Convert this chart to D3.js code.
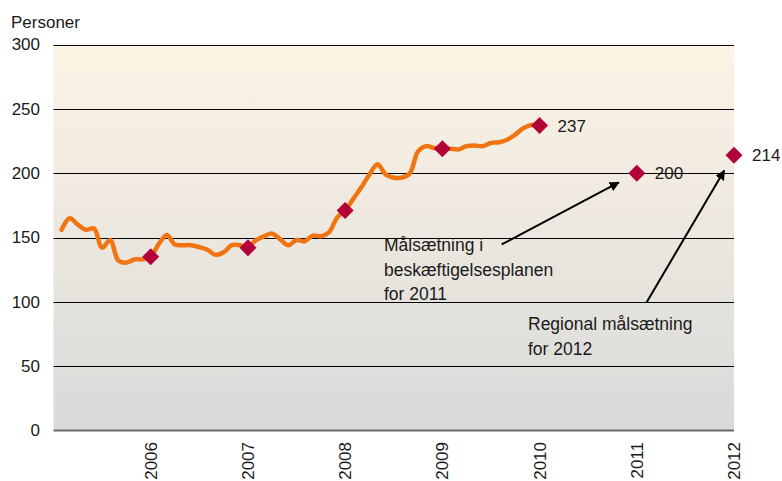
<!DOCTYPE html>
<html>
<head>
<meta charset="utf-8">
<script src="https://cdn.jsdelivr.net/npm/d3@7"></script>
<style>
  body { margin: 0; background: #fff; }
  text { font-family: "Liberation Sans", Arial, sans-serif; fill: #1a1a1a; }
</style>
</head>
<body>
<svg class="chart" width="782" height="481"></svg>
<script>
var svg = d3.select(".chart"),
    width = +svg.attr("width"),
    height = +svg.attr("height");

// monthly values, Feb 2005 .. Jan 2010
var startYear = 2005, startMonth = 1;
var monthly = [156, 165, 160, 156, 157, 142, 148, 132, 130.5, 133, 133,
  135, 145, 152, 144.5, 144, 144, 142.5, 140.5, 136.5, 138.5, 144, 144,
  142.5, 148, 151, 153, 148.5, 144, 148, 147, 151.5, 151, 154, 165.5,
  171, 180, 189, 199, 207, 199, 196.5, 196.5, 200, 217, 221, 219.5,
  219, 219, 218.5, 221, 221.5, 221, 223.5, 224, 226, 230, 235, 237.5,
  237];

// january markers
var markerYears = [2006, 2007, 2008, 2009, 2010, 2011, 2012];
var markerValues = [135, 142, 171, 219, 237, 200, 214];
var markerLabels = [null, null, null, null, "237", "200", "214"];

var yTicks = [0, 50, 100, 150, 200, 250, 300];
var xTicks = [2006, 2007, 2008, 2009, 2010, 2011, 2012];

var x = d3.scaleLinear().domain([2005, 2012]).range([53.5, 734]);
var y = d3.scaleLinear().domain([0, 300]).range([430.5, 44.5]);

var lineData = monthly.map(function(v, i) {
  return { t: startYear + (startMonth + i) / 12, v: v };
});

// background gradient
var defs = svg.append("defs");
var grad = defs.append("linearGradient")
    .attr("id", "bg")
    .attr("x1", 0).attr("y1", 0).attr("x2", 0).attr("y2", 1);
grad.append("stop").attr("offset", "0%").attr("stop-color", "#fcf3e4");
grad.append("stop").attr("offset", "50%").attr("stop-color", "#ece7df");
grad.append("stop").attr("offset", "100%").attr("stop-color", "#d7d9d9");

svg.append("rect")
    .attr("x", x(2005))
    .attr("y", y(300))
    .attr("width", x(2012) - x(2005))
    .attr("height", y(0) - y(300))
    .style("fill", "url(#bg)");

// gridlines
svg.append("g")
  .selectAll("line")
  .data(yTicks.filter(function(d) { return d > 0; }))
  .enter().append("line")
    .attr("x1", x(2005)).attr("x2", x(2012))
    .attr("y1", function(d) { return Math.round(y(d)) + 0.5; })
    .attr("y2", function(d) { return Math.round(y(d)) + 0.5; })
    .style("stroke", "#000")
    .style("stroke-width", 1);

svg.append("line")
    .attr("x1", x(2005)).attr("x2", x(2012))
    .attr("y1", y(0)).attr("y2", y(0))
    .style("stroke", "#6b6b6b")
    .style("stroke-width", 2);

// y labels
svg.append("g")
  .selectAll("text")
  .data(yTicks)
  .enter().append("text")
    .attr("x", 40)
    .attr("y", function(d) { return y(d); })
    .attr("dy", "0.35em")
    .attr("text-anchor", "end")
    .style("font-size", "17px")
    .text(function(d) { return d; });

svg.append("text")
    .attr("x", 11)
    .attr("y", 28)
    .style("font-size", "17px")
    .text("Personer");

// x labels (rotated)
svg.append("g")
  .selectAll("text")
  .data(xTicks)
  .enter().append("text")
    .attr("transform", function(d) { return "translate(" + x(d) + ",442) rotate(-90)"; })
    .attr("text-anchor", "end")
    .attr("dy", "0.35em")
    .style("font-size", "17px")
    .text(function(d) { return d; });

// line
var line = d3.line()
    .x(function(d) { return x(d.t); })
    .y(function(d) { return y(d.v); })
    .curve(d3.curveCatmullRom.alpha(0.5));

svg.append("path")
    .datum(lineData)
    .attr("d", line)
    .style("fill", "none")
    .style("stroke", "#f07412")
    .style("stroke-width", 4.5)
    .style("stroke-linejoin", "round")
    .style("stroke-linecap", "round");

// markers
var markers = markerYears.map(function(yr, i) {
  return { t: yr, v: markerValues[i], label: markerLabels[i] };
});

svg.append("g")
  .selectAll("path")
  .data(markers)
  .enter().append("path")
    .attr("d", "M0,-8.5L8.5,0L0,8.5L-8.5,0Z")
    .attr("transform", function(d) { return "translate(" + x(d.t) + "," + y(d.v) + ")"; })
    .style("fill", "#b3003a");

svg.append("g")
  .selectAll("text")
  .data(markers.filter(function(d) { return d.label; }))
  .enter().append("text")
    .attr("x", function(d) { return x(d.t) + 18; })
    .attr("y", function(d) { return y(d.v); })
    .attr("dy", "0.35em")
    .style("font-size", "17px")
    .text(function(d) { return d.label; });

// annotations
defs.append("marker")
    .attr("id", "arrow")
    .attr("viewBox", "0 0 10 10")
    .attr("refX", 9).attr("refY", 5)
    .attr("markerWidth", 5).attr("markerHeight", 5)
    .attr("orient", "auto")
  .append("path")
    .attr("d", "M0,0L10,5L0,10Z")
    .style("fill", "#000");

var arrows = [
  { x1: 2009.61, y1: 144.6, x2: 2010.815, y2: 192.8 },
  { x1: 2011.1, y1: 99.5, x2: 2011.9, y2: 202 }
];

svg.append("g")
  .selectAll("line")
  .data(arrows)
  .enter().append("line")
    .attr("x1", function(d) { return x(d.x1); })
    .attr("y1", function(d) { return y(d.y1); })
    .attr("x2", function(d) { return x(d.x2); })
    .attr("y2", function(d) { return y(d.y2); })
    .style("stroke", "#000")
    .style("stroke-width", 2)
    .attr("marker-end", "url(#arrow)");

var note1 = ["Målsætning i", "beskæftigelsesplanen", "for 2011"];
var note2 = ["Regional målsætning", "for 2012"];

svg.append("text")
    .attr("x", 384).attr("y", 251)
    .style("font-size", "17.5px")
  .selectAll("tspan")
  .data(note1)
  .enter().append("tspan")
    .attr("x", 384)
    .attr("dy", function(d, i) { return i ? 24.5 : 0; })
    .text(function(d) { return d; });

svg.append("text")
    .attr("x", 528).attr("y", 330)
    .style("font-size", "17.5px")
  .selectAll("tspan")
  .data(note2)
  .enter().append("tspan")
    .attr("x", 528)
    .attr("dy", function(d, i) { return i ? 24.5 : 0; })
    .text(function(d) { return d; });
</script>
</body>
</html>
